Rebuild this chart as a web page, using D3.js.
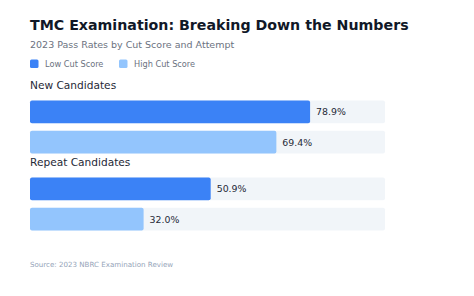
<!DOCTYPE html>
<html>
<head>
<meta charset="utf-8">
<script src="https://cdn.jsdelivr.net/npm/d3@7"></script>
<style>
  body { margin: 0; background: #fff; font-family: "DejaVu Sans", sans-serif; }
</style>
</head>
<body>
<svg id="chart" width="474" height="296"></svg>
<script>
// data
const groups = ['New Candidates', 'Repeat Candidates'];
const series = ['Low Cut Score', 'High Cut Score'];
const lowValues = [78.9, 50.9];
const highValues = [69.4, 32.0];

const colors = { 'Low Cut Score': '#3b82f6', 'High Cut Score': '#93c5fd' };
const left = 30;
const trackWidth = 355;

const svg = d3.select('#chart');

svg.append('text')
    .attr('x', left)
    .attr('y', 30)
    .attr('font-size', 14.2)
    .attr('font-weight', 'bold')
    .attr('fill', '#111827')
    .text('TMC Examination: Breaking Down the Numbers');

svg.append('text')
    .attr('x', left)
    .attr('y', 44)
    .attr('dominant-baseline', 'central')
    .attr('font-size', 9.5)
    .attr('fill', '#6b7280')
    .text('2023 Pass Rates by Cut Score and Attempt');

// legend
const legend = svg.append('g')
    .attr('transform', `translate(${left}, 59.5)`);

const legendItems = legend.selectAll('g')
    .data(series)
    .join('g')
    .attr('transform', (d, i) => `translate(${i * 89}, 0)`);

legendItems.append('rect')
    .attr('width', 8.5)
    .attr('height', 8.5)
    .attr('rx', 1.5)
    .attr('fill', d => colors[d]);

legendItems.append('text')
    .attr('x', 15)
    .attr('y', 4.5)
    .attr('dominant-baseline', 'central')
    .attr('font-size', 8.2)
    .attr('fill', '#6b7280')
    .text(d => d);

// scales
const x = d3.scaleLinear()
    .domain([0, 100])
    .range([0, trackWidth]);

const groupTop = d3.scaleOrdinal()
    .domain(groups)
    .range([100.5, 177.5]);

const barY = d3.scaleBand()
    .domain(series)
    .range([0, 53])
    .paddingInner(0.25);

const rows = groups.map((g, i) => ({
  group: g,
  bars: [
    { key: series[0], value: lowValues[i] },
    { key: series[1], value: highValues[i] }
  ]
}));

const groupsG = svg.selectAll('.group')
    .data(rows)
    .join('g')
    .attr('class', 'group')
    .attr('transform', d => `translate(${left}, ${groupTop(d.group)})`);

groupsG.append('text')
    .attr('x', 0)
    .attr('y', -15.5)
    .attr('dominant-baseline', 'central')
    .attr('font-size', 10.6)
    .attr('fill', '#1f2937')
    .text(d => d.group);

const bar = groupsG.selectAll('.bar')
    .data(d => d.bars)
    .join('g')
    .attr('class', 'bar')
    .attr('transform', d => `translate(0, ${barY(d.key)})`);

bar.append('rect')
    .attr('width', x(100))
    .attr('height', barY.bandwidth())
    .attr('rx', 2)
    .attr('fill', '#f1f5f9');

bar.append('rect')
    .attr('width', d => x(d.value))
    .attr('height', barY.bandwidth())
    .attr('rx', 2)
    .attr('fill', d => colors[d.key]);

bar.append('text')
    .attr('x', d => x(d.value) + 6)
    .attr('y', barY.bandwidth() / 2)
    .attr('dominant-baseline', 'central')
    .attr('font-size', 9.4)
    .attr('fill', '#1f2937')
    .text(d => d.value.toFixed(1) + '%');

svg.append('text')
    .attr('x', left)
    .attr('y', 264)
    .attr('dominant-baseline', 'central')
    .attr('font-size', 7.1)
    .attr('fill', '#94a3b8')
    .text('Source: 2023 NBRC Examination Review');
</script>
</body>
</html>
